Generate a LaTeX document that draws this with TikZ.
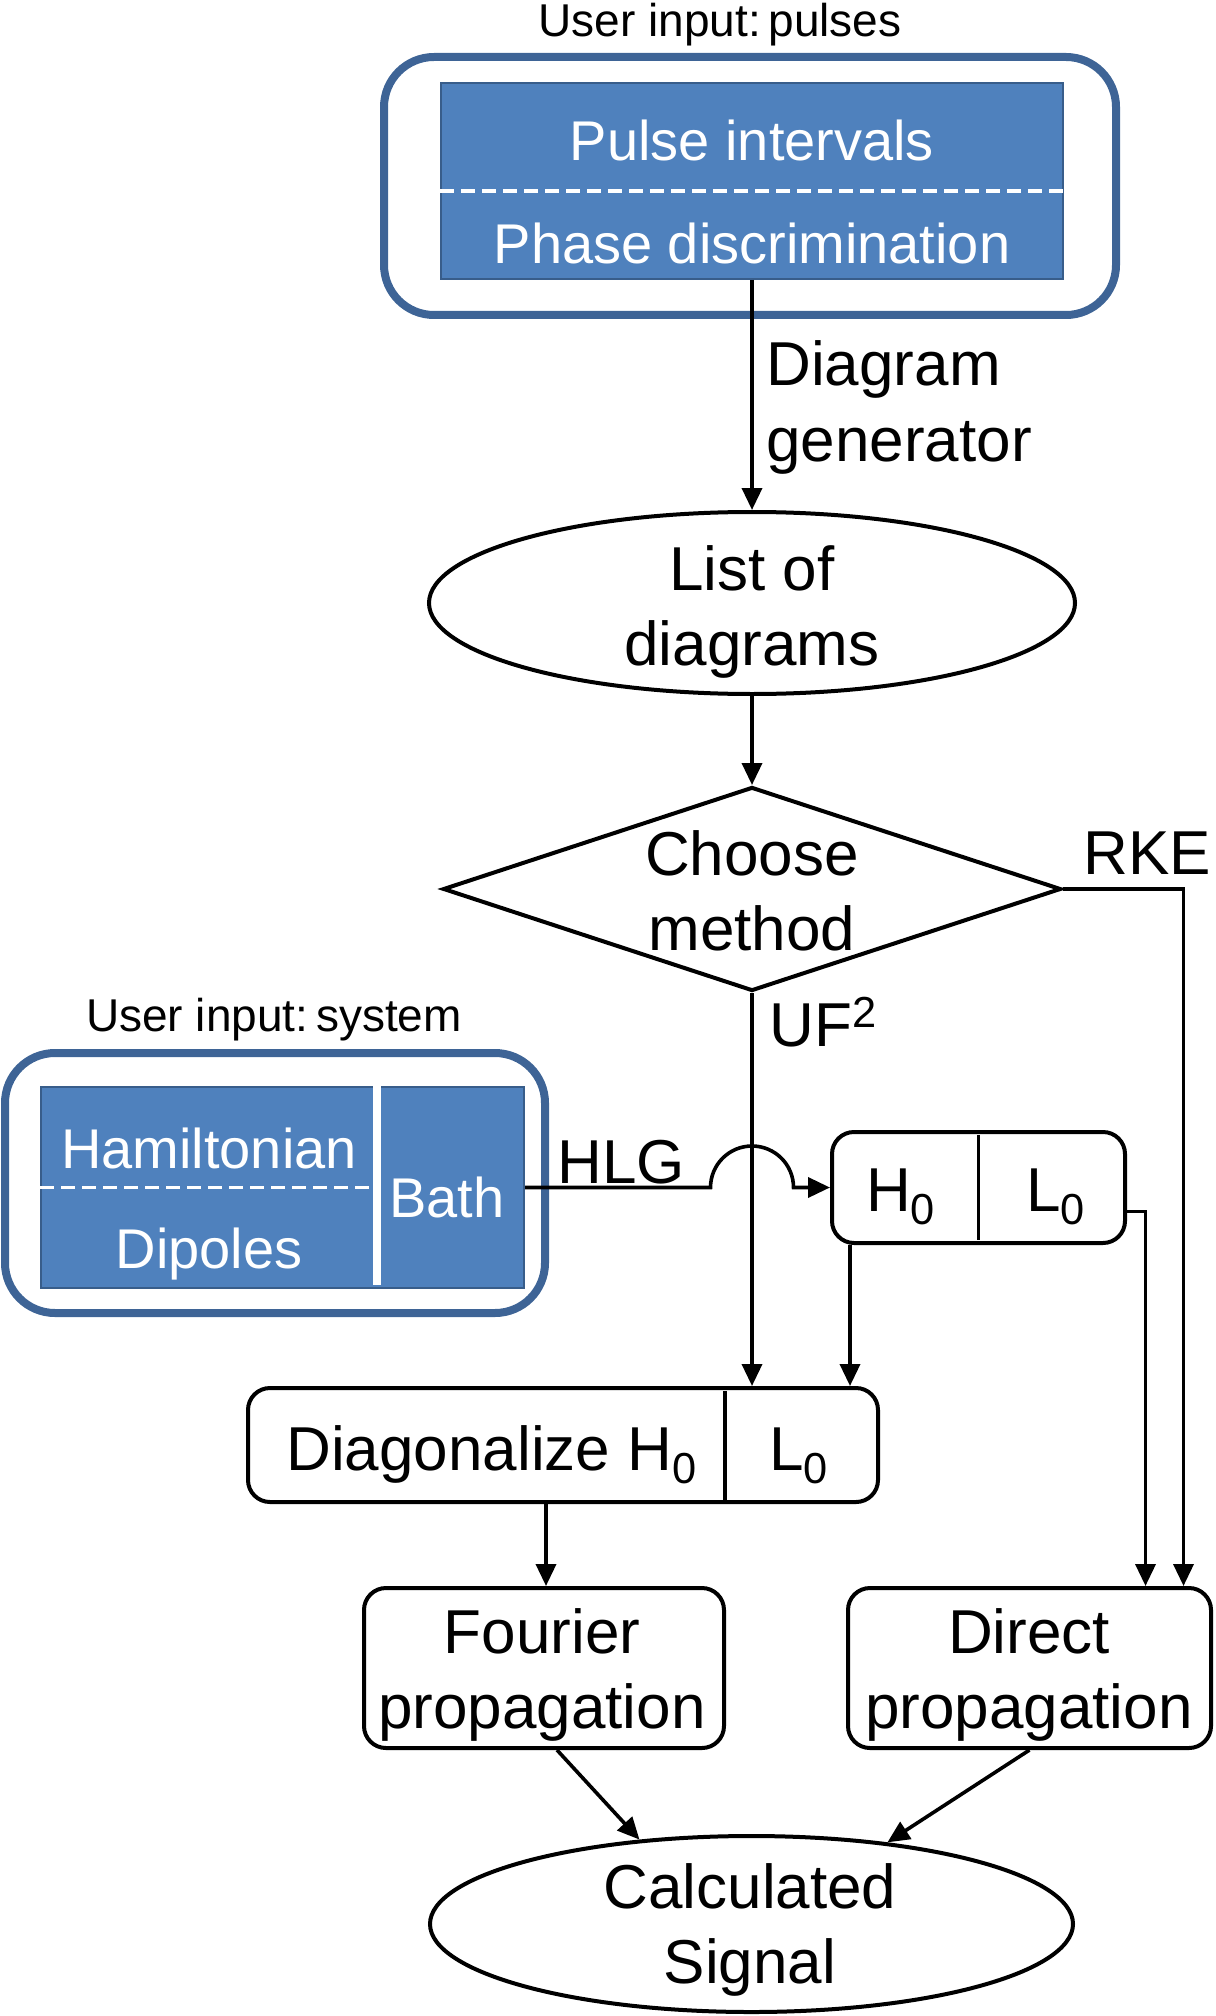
\documentclass[tikz,border=0pt]{standalone}
\usepackage{fontspec}
\setmainfont{Liberation Sans}
\usetikzlibrary{shapes.geometric,arrows.meta,calc}
\definecolor{boxblue}{RGB}{79,129,189}
\definecolor{edgeblue}{RGB}{56,93,138}
\definecolor{rimblue}{RGB}{62,100,150}
\begin{document}
\begin{tikzpicture}[x=0.5pt,y=-0.5pt,
  big/.style={font=\fontsize{31}{38}\selectfont, inner sep=0pt},
  small/.style={font=\fontsize{28}{34}\selectfont, inner sep=0pt, text=white},
  lbl/.style={font=\fontsize{23}{28}\selectfont, inner sep=0pt},
  arr/.style={line width=1.8pt, -{Triangle[length=11pt,width=10pt]}},
  conn/.style={line width=1.8pt},
  flowbox/.style={draw, line width=2pt, rounded corners=11pt, inner sep=0pt},
  ell/.style={draw, ellipse, line width=2pt, inner sep=0pt},
  rim/.style={draw=rimblue, line width=4pt, rounded corners=25pt, inner sep=0pt},
  fillbox/.style={fill=boxblue, draw=edgeblue, line width=1pt, inner sep=0pt},
  whitedash/.style={white, line width=1.8pt, dash pattern=on 7pt off 3.5pt},
]
\useasboundingbox (0,0) rectangle (1215,2016);

% ---- pulses input
\node[lbl, anchor=base] (upulse) at (720,37) {User input:\,pulses};
\node[rim, minimum width=366pt, minimum height=129pt] (pouter) at (750,186) {};
\node[fillbox, minimum width=311pt, minimum height=98pt] (pinner) at (752,181) {};
\draw[whitedash] ([yshift=-5pt]pinner.west) -- ([yshift=-5pt]pinner.east);
\node[small, anchor=base] (pint) at (752,161) {Pulse intervals};
\node[small, anchor=base] (pdis) at (752,264) {Phase discrimination};

% ---- diagram generator
\node[big, anchor=base west] (dg1) at (766,386) {Diagram};
\node[big, anchor=base west] (dg2) at (766,461) {generator};

% ---- list of diagrams
\node[ell, minimum width=323pt, minimum height=91pt] (list) at (752,603) {};
\node[big, anchor=base] (list1) at (752,590) {List of};
\node[big, anchor=base] (list2) at (752,665) {diagrams};
\draw[arr] (pinner.south) -- (list.north);

% ---- choose method
\node[draw, diamond, line width=2pt, minimum width=309pt, minimum height=102pt, inner sep=0pt] (choose) at (752,889) {};
\node[big, anchor=base] (ch1) at (752,875) {Choose};
\node[big, anchor=base] (ch2) at (752,950) {method};
\draw[arr] (list.south) -- (choose.north);
\node[big, anchor=base] (rke) at (1147,874) {RKE};
\node[big, anchor=base west] (uf) at (769,1046) {UF\textsuperscript{2}};

% ---- system input
\node[lbl, anchor=base] (usys) at (274,1031) {User input:\,system};
\node[rim, minimum width=270pt, minimum height=130pt] (souter) at (275,1183) {};
\node[fillbox, minimum width=241.5pt, minimum height=100.5pt] (sinner) at (282.5,1187.5) {};
\coordinate (sdiv) at ([xshift=47.25pt]sinner.center);
\draw[white, line width=4pt] ([xshift=47.25pt]sinner.north) -- ([xshift=47.25pt,yshift=2pt]sinner.south);
\draw[whitedash] (sinner.west) -- (sdiv);
\node[small, anchor=base] (ham) at (209,1168) {Hamiltonian};
\node[small, anchor=base] (dip) at (209,1268) {Dipoles};
\node[small, anchor=base] (bath) at (447,1217) {Bath};

% ---- H0 | L0
\node[flowbox, minimum width=146.5pt, minimum height=55.5pt] (h0l0) at (978.5,1187.5) {};
\draw[conn] ([yshift=-2.5pt]h0l0.north) -- ([yshift=2.5pt]h0l0.south);
\node[big, anchor=base] (h0t) at (901,1211) {H\textsubscript{0}};
\node[big, anchor=base] (l0t) at (1056,1211) {L\textsubscript{0}};
\node[big, anchor=base] (hlg) at (621,1183) {HLG};
\draw[arr] (sinner.east) -- ($(choose.south |- sinner.east)+(-20.75pt,0)$)
  arc[start angle=180, end angle=0, radius=20.75pt] -- (h0l0.west);

% ---- diagonalize
\node[flowbox, minimum width=315pt, minimum height=57pt] (diag) at (563,1445) {};
\draw[conn] ([xshift=81pt,yshift=-2.5pt]diag.north) -- ([xshift=81pt]diag.south);
\node[big, anchor=base] (diagt) at (492,1470) {Diagonalize H\textsubscript{0}};
\node[big, anchor=base] (diagl) at (799,1470) {L\textsubscript{0}};
\draw[arr] (choose.south) -- (choose.south |- diag.north);
\coordinate (h0drop) at ([xshift=10pt]h0l0.south west);
\draw[arr] (h0drop) -- (h0drop |- diag.north);

% ---- propagation boxes
\node[flowbox, minimum width=180pt, minimum height=80pt] (fourier) at (544,1668) {};
\node[big, anchor=base] (fo1) at (542,1653) {Fourier};
\node[big, anchor=base] (fo2) at (542,1728) {propagation};
\node[flowbox, minimum width=181.5pt, minimum height=80pt] (direct) at (1029.5,1668) {};
\node[big, anchor=base] (di1) at (1029,1653) {Direct};
\node[big, anchor=base] (di2) at (1029,1728) {propagation};
\coordinate (diagdrop) at ([xshift=-8.5pt]diag.south);
\draw[arr] (diagdrop) -- (diagdrop |- fourier.north);
\coordinate (lzero) at ([yshift=-12pt]h0l0.east);
\draw[arr] (lzero) -| ([xshift=58pt]direct.north);
\draw[arr] (choose.east) -| ([xshift=77pt]direct.north);

% ---- calculated signal
\node[ell, minimum width=321.5pt, minimum height=88pt] (sig) at (751.5,1924) {};
\node[big, anchor=base] (sg1) at (750,1908) {Calculated};
\node[big, anchor=base] (sg2) at (750,1983) {Signal};
\draw[arr] ([xshift=6.5pt]fourier.south) -- (sig.143);
\draw[arr] (direct.south) -- (sig.31);
\end{tikzpicture}
\end{document}
